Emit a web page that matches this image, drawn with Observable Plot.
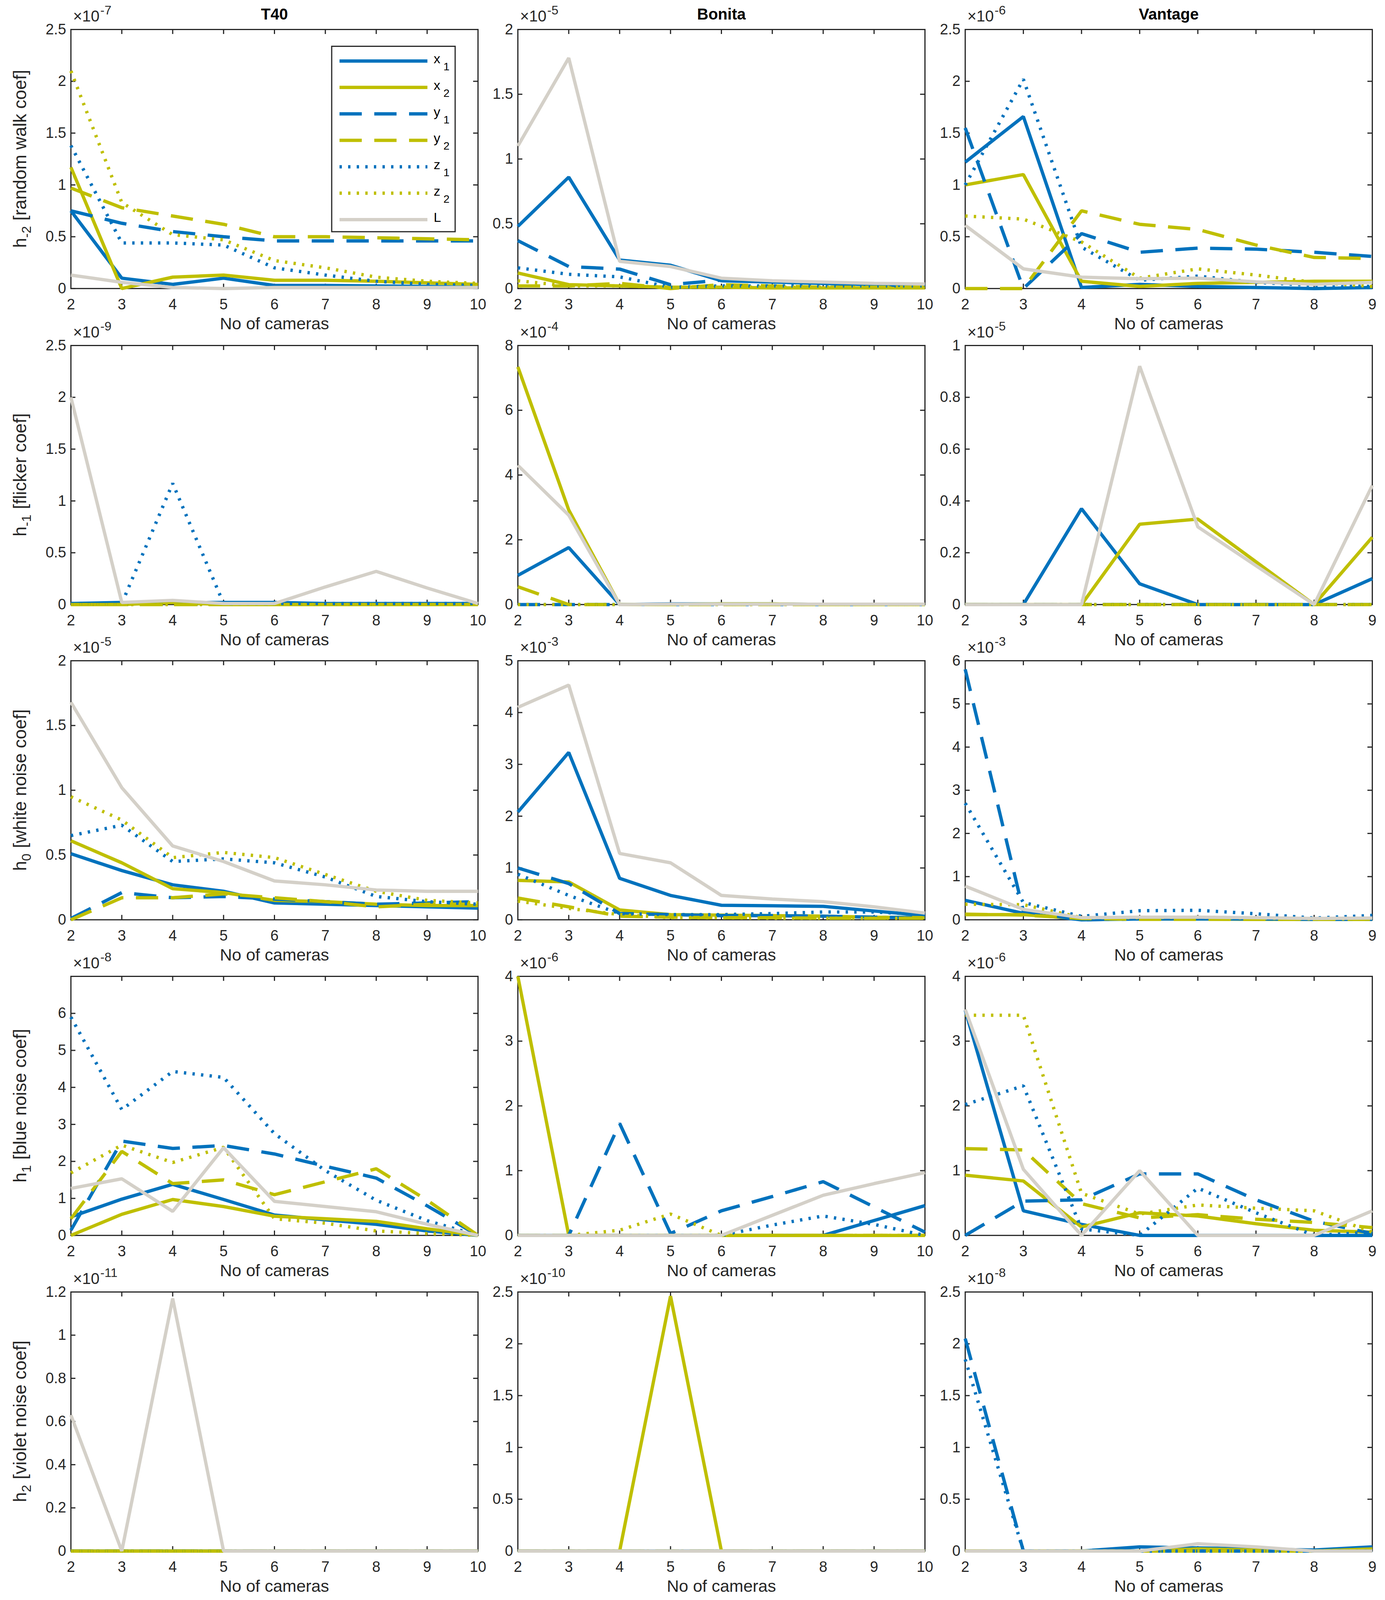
<!DOCTYPE html>
<html><head><meta charset="utf-8">
<script src="https://cdn.jsdelivr.net/npm/d3@7"></script>
<script src="https://cdn.jsdelivr.net/npm/@observablehq/plot@0.6"></script>
<style>
html,body{margin:0;padding:0;background:#fff;overflow:hidden;}
#fig{position:relative;width:3545px;height:4237px;background:#fff;overflow:hidden;}
#fig svg{position:absolute;}
</style></head><body><div id="fig"></div>
<script>
// ---------------- data ----------------
const seriesKeys = ["x1","x2","y1","y2","z1","z2","L"];
const cameraNames = ["T40","Bonita","Vantage"];
const camerasT40 = [2,3,4,5,6,7,8,9,10];
const camerasBonita = [2,3,4,5,6,7,8,9,10];
const camerasVantage = [2,3,4,5,6,7,8,9];
const rowLabels = [["h","-2","[random walk coef]"],["h","-1","[flicker coef]"],["h","0","[white noise coef]"],["h","1","[blue noise coef]"],["h","2","[violet noise coef]"]];
const exponents = [[-7,-5,-6],[-9,-4,-5],[-5,-3,-3],[-8,-6,-6],[-11,-10,-8]];
const yMax = [[2.5,2,2.5],[2.5,8,1],[2,5,6],[7,4,4],[1.2,2.5,2.5]];
const yTicks = [
  [[0,0.5,1,1.5,2,2.5],[0,0.5,1,1.5,2],[0,0.5,1,1.5,2,2.5]],
  [[0,0.5,1,1.5,2,2.5],[0,2,4,6,8],[0,0.2,0.4,0.6,0.8,1]],
  [[0,0.5,1,1.5,2],[0,1,2,3,4,5],[0,1,2,3,4,5,6]],
  [[0,1,2,3,4,5,6],[0,1,2,3,4],[0,1,2,3,4]],
  [[0,0.2,0.4,0.6,0.8,1,1.2],[0,0.5,1,1.5,2,2.5],[0,0.5,1,1.5,2,2.5]]
];

// h-2 random walk
const t40RandomWalk = {
  x1:[0.75,0.1,0.04,0.1,0.03,0.03,0.025,0.02,0.01],
  x2:[1.17,0.0,0.11,0.13,0.08,0.08,0.07,0.055,0.04],
  y1:[0.75,0.63,0.55,0.5,0.46,0.46,0.46,0.46,0.46],
  y2:[0.97,0.78,0.7,0.62,0.5,0.5,0.49,0.48,0.47],
  z1:[1.38,0.44,0.44,0.42,0.2,0.13,0.07,0.04,0.03],
  z2:[2.1,0.83,0.52,0.47,0.27,0.2,0.11,0.07,0.05],
  L:[0.13,0.06,0.01,0.0,0.01,0.01,0.01,0.01,0.01]
};
const bonitaRandomWalk = {
  x1:[0.48,0.86,0.22,0.18,0.06,0.05,0.04,0.03,0.025],
  x2:[0.12,0.03,0.02,0.01,0.01,0.005,0.005,0.005,0.005],
  y1:[0.37,0.17,0.15,0.03,0.065,0.05,0.04,0.03,0.02],
  y2:[0.02,0.02,0.04,0.0,0.03,0.02,0.01,0.01,0.01],
  z1:[0.16,0.11,0.09,0.01,0.02,0.02,0.02,0.02,0.02],
  z2:[0.06,0.02,0.02,0.01,0.01,0.01,0.01,0.01,0.01],
  L:[1.1,1.78,0.21,0.17,0.08,0.06,0.05,0.04,0.035]
};
const vantageRandomWalk = {
  x1:[1.22,1.66,0.01,0.04,0.02,0.01,0.0,0.01],
  x2:[1.0,1.1,0.07,0.02,0.05,0.06,0.07,0.07],
  y1:[1.55,0.0,0.53,0.35,0.39,0.38,0.35,0.31],
  y2:[0.0,0.0,0.75,0.62,0.57,0.42,0.3,0.29],
  z1:[1.0,2.02,0.4,0.08,0.12,0.06,0.03,0.02],
  z2:[0.7,0.67,0.45,0.1,0.19,0.13,0.06,0.02],
  L:[0.61,0.19,0.11,0.095,0.1,0.065,0.04,0.06]
};
// h-1 flicker
const t40Flicker = {
  x1:[0.01,0.02,0.02,0.02,0.02,0.01,0.01,0.01,0.01],
  x2:[0,0,0.02,0,0,0,0,0,0],
  y1:[0,0,0,0,0,0,0,0,0],
  y2:[0,0,0,0,0,0,0,0,0],
  z1:[0.01,0.01,1.17,0.01,0.01,0.01,0.01,0.01,0.01],
  z2:[0,0,0,0,0,0,0,0,0],
  L:[2.0,0.02,0.04,0.01,0.01,0.17,0.32,0.16,0.01]
};
const bonitaFlicker = {
  x1:[0.9,1.76,0,0.02,0.02,0.02,0,0,0],
  x2:[7.34,2.92,0,0,0.02,0.02,0,0,0],
  y1:[0,0,0,0,0,0,0,0,0],
  y2:[0.55,0,0,0,0,0,0,0,0],
  z1:[0,0,0,0,0,0,0,0,0],
  z2:[0,0,0,0,0,0,0,0,0],
  L:[4.3,2.76,0,0.01,0.01,0.01,0.01,0.01,0.01]
};
const vantageFlicker = {
  x1:[0,0,0.37,0.08,0,0,0,0.1],
  x2:[0,0,0,0.31,0.33,0.165,0,0.26],
  y1:[0,0,0,0,0,0,0,0],
  y2:[0,0,0,0,0,0,0,0],
  z1:[0,0,0,0,0,0,0,0],
  z2:[0,0,0,0,0,0,0,0],
  L:[0,0,0,0.92,0.3,0.15,0,0.46]
};
// h0 white noise
const t40White = {
  x1:[0.51,0.38,0.27,0.22,0.13,0.12,0.11,0.1,0.09],
  x2:[0.61,0.44,0.24,0.21,0.15,0.14,0.12,0.11,0.11],
  y1:[0.01,0.21,0.17,0.18,0.16,0.14,0.12,0.13,0.14],
  y2:[0.0,0.17,0.17,0.2,0.17,0.14,0.1,0.12,0.12],
  z1:[0.65,0.73,0.45,0.47,0.44,0.33,0.18,0.14,0.12],
  z2:[0.95,0.77,0.48,0.52,0.48,0.35,0.22,0.15,0.13],
  L:[1.68,1.02,0.57,0.45,0.3,0.27,0.23,0.22,0.22]
};
const bonitaWhite = {
  x1:[2.08,3.23,0.8,0.47,0.28,0.27,0.26,0.17,0.08],
  x2:[0.76,0.73,0.19,0.1,0.09,0.08,0.07,0.05,0.04],
  y1:[1.0,0.7,0.12,0.1,0.08,0.08,0.07,0.05,0.04],
  y2:[0.42,0.25,0.07,0.05,0.04,0.04,0.03,0.03,0.03],
  z1:[0.88,0.47,0.12,0.1,0.1,0.12,0.15,0.15,0.1],
  z2:[0.36,0.22,0.1,0.04,0.04,0.03,0.03,0.03,0.03],
  L:[4.1,4.53,1.28,1.1,0.47,0.4,0.35,0.25,0.13]
};
const vantageWhite = {
  x1:[0.45,0.15,0.0,0.02,0.02,0.02,0.01,0.01],
  x2:[0.12,0.12,0.03,0.02,0.02,0.01,0.01,0.01],
  y1:[5.8,0.2,0.0,0.02,0.02,0.02,0.01,0.01],
  y2:[0.13,0.11,0.03,0.01,0.01,0.01,0.01,0.01],
  z1:[2.7,0.4,0.08,0.21,0.22,0.14,0.04,0.1],
  z2:[0.36,0.35,0.05,0.05,0.06,0.04,0.02,0.02],
  L:[0.78,0.24,0.05,0.06,0.06,0.05,0.03,0.04]
};
// h1 blue noise
const t40Blue = {
  x1:[0.5,0.98,1.38,0.97,0.55,0.42,0.3,0.12,0.0],
  x2:[0.0,0.57,0.97,0.78,0.52,0.45,0.38,0.18,0.0],
  y1:[0.14,2.55,2.35,2.43,2.2,1.87,1.55,0.8,0.0],
  y2:[0.45,2.27,1.4,1.5,1.1,1.45,1.8,0.95,0.0],
  z1:[5.9,3.4,4.43,4.27,2.75,1.75,0.95,0.4,0.0],
  z2:[1.69,2.44,1.97,2.38,0.45,0.33,0.12,0.05,0.0],
  L:[1.27,1.53,0.65,2.37,0.92,0.78,0.64,0.3,0.0]
};
const bonitaBlue = {
  x1:[0,0,0,0,0,0,0,0.23,0.46],
  x2:[4.0,0,0,0,0,0,0,0,0],
  y1:[0,0,1.73,0.03,0.38,0.6,0.83,0.44,0.05],
  y2:[0,0,0,0,0,0,0,0,0],
  z1:[0,0,0,0,0,0.16,0.3,0.17,0.0],
  z2:[0,0,0.08,0.33,0,0,0,0,0],
  L:[0,0,0,0,0,0.31,0.62,0.8,0.97]
};
const vantageBlue = {
  x1:[3.48,0.38,0.17,0.0,0,0,0,0],
  x2:[0.93,0.84,0.13,0.35,0.3,0.18,0.08,0.05],
  y1:[0.0,0.53,0.55,0.95,0.95,0.55,0.22,0.03],
  y2:[1.34,1.32,0.49,0.27,0.32,0.25,0.2,0.12],
  z1:[2.02,2.31,0.1,0.0,0.73,0.35,0.0,0.05],
  z2:[3.4,3.4,0.65,0.33,0.47,0.42,0.38,0.05],
  L:[3.49,1.02,0.0,1.0,0.0,0.0,0.0,0.38]
};
// h2 violet noise
const t40Violet = {
  x1:[0,0,0,0,0,0,0,0,0],
  x2:[0,0,0,0,0,0,0,0,0],
  y1:[0,0,0,0,0,0,0,0,0],
  y2:[0,0,0,0,0,0,0,0,0],
  z1:[0,0,0,0,0,0,0,0,0],
  z2:[0,0,0,0,0,0,0,0,0],
  L:[0.63,0,1.17,0,0,0,0,0,0]
};
const bonitaViolet = {
  x1:[0,0,0,0,0,0,0,0,0],
  x2:[0,0,0,2.46,0,0,0,0,0],
  y1:[0,0,0,0,0,0,0,0,0],
  y2:[0,0,0,0,0,0,0,0,0],
  z1:[0,0,0,0,0,0,0,0,0],
  z2:[0,0,0,0,0,0,0,0,0],
  L:[0,0,0,0,0,0,0,0,0]
};
const vantageViolet = {
  x1:[0,0,0,0.04,0.03,0.02,0.01,0.04],
  x2:[0,0,0,0,0.02,0.01,0,0.02],
  y1:[2.05,0,0,0,0,0,0,0],
  y2:[0,0,0,0,0,0,0,0],
  z1:[1.85,0,0,0,0,0,0,0],
  z2:[0,0,0,0,0,0,0,0],
  L:[0,0,0,0,0.07,0.04,0,0]
};

const panelData = [
  [t40RandomWalk, bonitaRandomWalk, vantageRandomWalk],
  [t40Flicker, bonitaFlicker, vantageFlicker],
  [t40White, bonitaWhite, vantageWhite],
  [t40Blue, bonitaBlue, vantageBlue],
  [t40Violet, bonitaViolet, vantageViolet]
];
const cameraCounts = [camerasT40, camerasBonita, camerasVantage];

// ---------------- styles / layout ----------------
const BLUE = "#0072BD", OLIVE = "#BFBF00", GRAY = "#D4D0C8", AXIS = "#262626";
const seriesColor = {x1: BLUE, x2: OLIVE, y1: BLUE, y2: OLIVE, z1: BLUE, z2: OLIVE, L: GRAY};
const seriesDash = {x1: null, x2: null, y1: "57,32", y2: "57,32", z1: "6,16", z2: "6,16", L: null};
const FONT = "'Liberation Sans', Arial, Helvetica, sans-serif";

// fit the 4237px-tall layout into the visible viewport
const viewH = Math.min(window.innerHeight || 4237, document.documentElement.clientHeight || 4237, 4237);
const sy = viewH / 4237;
const fig = document.getElementById("fig");
fig.style.height = viewH + "px";

const colLeft = [181, 1325, 2470];
const rowTop = [78, 914, 1749, 2585, 3421].map(v => v * sy);
const plotW = 1042, plotH = 686 * sy, tickLen = 12;
const M = {left: 160, right: 40, top: 90, bottom: 130};

function makePanel(r, c) {
  const xs = cameraCounts[c];
  const d = panelData[r][c];
  const yt = yTicks[r][c];
  const rows = [];
  for (const k of seriesKeys) d[k].forEach((v, i) => rows.push({cam: xs[i], value: v, series: k}));
  const marks = [
    Plot.frame({stroke: AXIS, strokeWidth: 3}),
    Plot.tickX(xs, {x: v => v, stroke: AXIS, strokeWidth: 3, insetBottom: plotH - tickLen}),
    Plot.tickX(xs, {x: v => v, stroke: AXIS, strokeWidth: 3, insetTop: plotH - tickLen}),
    Plot.tickY(yt, {y: v => v, stroke: AXIS, strokeWidth: 3, insetRight: plotW - tickLen}),
    Plot.tickY(yt, {y: v => v, stroke: AXIS, strokeWidth: 3, insetLeft: plotW - tickLen}),
    Plot.axisX(xs, {tickSize: 0, tickPadding: 26, fontSize: 38, label: null, tickFormat: d3.format("d"), fill: AXIS}),
    Plot.axisY(yt, {tickSize: 0, tickPadding: 12, fontSize: 38, label: null, tickFormat: d3.format("~g"), fill: AXIS})
  ];
  for (const k of seriesKeys) {
    marks.push(Plot.line(rows.filter(o => o.series === k), {
      x: "cam", y: "value", stroke: seriesColor[k], strokeWidth: 8.5,
      strokeDasharray: seriesDash[k], strokeLinecap: "butt", strokeLinejoin: "miter"
    }));
  }
  marks.push(Plot.text(["No of cameras"], {frameAnchor: "bottom", dy: 104, lineAnchor: "bottom", fontSize: 43, fill: AXIS}));
  if (r === 0) marks.push(Plot.text([cameraNames[c]], {frameAnchor: "top", dy: -25, lineAnchor: "bottom", fontSize: 40, fontWeight: "bold", fill: "#000"}));

  const svg = Plot.plot({
    width: plotW + M.left + M.right,
    height: plotH + M.top + M.bottom,
    marginLeft: M.left, marginRight: M.right, marginTop: M.top, marginBottom: M.bottom,
    x: {domain: [xs[0], xs[xs.length - 1]], axis: null},
    y: {domain: [0, yMax[r][c]], axis: null},
    style: {background: "transparent", overflow: "visible", fontFamily: FONT, color: AXIS},
    marks
  });
  svg.style.left = (colLeft[c] - M.left) + "px";
  svg.style.top = (rowTop[r] - M.top) + "px";
  svg.style.maxWidth = "none";
  const s = d3.select(svg);

  // exponent label (x10^n)
  const ex = s.append("text").attr("x", M.left + 6).attr("y", M.top - 20)
    .attr("text-anchor", "start")
    .attr("font-family", FONT).attr("fill", AXIS).attr("font-size", 40);
  ex.append("tspan").text("\u00d710");
  ex.append("tspan").attr("font-size", 32).attr("dx", 2).attr("dy", -18).text(String(exponents[r][c]));

  // y label
  if (c === 0) {
    const lab = rowLabels[r];
    const yl = s.append("text")
      .attr("transform", `translate(${M.left - 114},${M.top + plotH / 2}) rotate(-90)`)
      .attr("text-anchor", "middle").attr("font-family", FONT).attr("fill", AXIS).attr("font-size", 46);
    yl.append("tspan").text(lab[0]);
    yl.append("tspan").attr("font-size", 34).attr("dy", 12).text(lab[1]);
    yl.append("tspan").attr("dy", -12).attr("dx", 14).text(lab[2]);
  }

  // legend in first panel
  if (r === 0 && c === 0) {
    const ly = v => v * sy;
    const g = s.append("g").attr("transform", `translate(${M.left},${M.top})`);
    g.append("rect").attr("x", 668).attr("y", ly(45)).attr("width", 316).attr("height", ly(491))
      .attr("fill", "#fff").attr("stroke", AXIS).attr("stroke-width", 3);
    const letters = {x1: ["x","1"], x2: ["x","2"], y1: ["y","1"], y2: ["y","2"], z1: ["z","1"], z2: ["z","2"], L: ["L",""]};
    seriesKeys.forEach((k, i) => {
      const y = ly(84 + i * 70);
      g.append("line").attr("x1", 688).attr("x2", 913).attr("y1", y).attr("y2", y)
        .attr("stroke", seriesColor[k]).attr("stroke-width", 8.5)
        .attr("stroke-dasharray", seriesDash[k]).attr("stroke-linecap", "butt");
      const t = g.append("text").attr("x", 929).attr("y", y + 6).attr("text-anchor", "start")
        .attr("font-family", FONT).attr("fill", "#000").attr("font-size", 34);
      t.append("tspan").text(letters[k][0]);
      if (letters[k][1]) t.append("tspan").attr("font-size", 28).attr("dx", 8).attr("dy", 18).text(letters[k][1]);
    });
  }
  fig.appendChild(svg);
}

for (let r = 0; r < 5; r++) for (let c = 0; c < 3; c++) makePanel(r, c);
</script></body></html>
